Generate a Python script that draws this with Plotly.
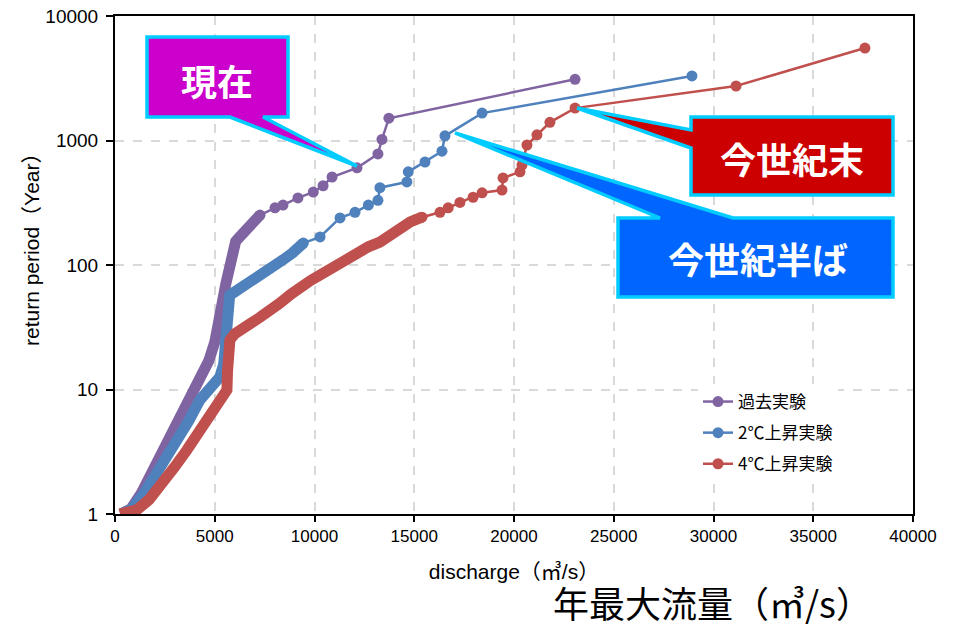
import plotly.graph_objects as go

# ---------------- data ----------------
# dense part of each curve (many overlapping points -> thick band)
past_dense_x = [300, 800, 1300, 2000, 2500, 3000, 3500, 4000, 4400, 4700, 5000, 5100, 5300, 5400,
                5550, 5700, 5800, 5900, 6050, 6200, 6400, 6600, 6900, 7270]
past_dense_y = [1.0, 1.1, 1.45, 2.4, 3.3, 4.8, 7, 10, 13.5, 17, 24, 28, 40, 52,
                70, 90, 105, 135, 155, 165, 178, 191, 215, 252]
past_x = [7270, 8020, 8420, 9170, 9940, 10430, 10880, 12130, 13180, 13380, 13730, 23060]
past_y = [252, 288, 303, 346, 385, 433, 509, 603, 780, 1020, 1510, 3100]

c2_dense_x = [300, 800, 1500, 2300, 3200, 3700, 4250, 4800, 5250, 5450, 5550, 5600, 5650, 5750,
              5910, 6300, 6770, 7200, 7600, 8000, 8420, 8900, 9440]
c2_dense_y = [1.0, 1.08, 1.5, 2.4, 4.0, 5.6, 8.2, 10.5, 12.6, 16, 25, 35, 50, 57,
              59.5, 65, 71.6, 80, 91, 100, 110, 125, 150]
c2_x = [9440, 10280, 11280, 12030, 12700, 13180, 13280, 14630, 14700, 15540, 16390, 16540, 18400, 28920]
c2_y = [150, 168, 239, 265, 303, 331, 418, 465, 560, 672, 820, 1090, 1660, 3300]

c4_dense_x = [250, 600, 1100, 1700, 2260, 3000, 3600, 4200, 4760, 5200, 5610, 5640, 5660, 5760,
              6000, 6420, 6800, 7270, 7800, 8270, 8800, 9270, 9800, 10280, 10800, 11280, 11700,
              12130, 12700, 13280, 13800, 14290, 14800, 15390]
c4_dense_y = [1.0, 1.02, 1.08, 1.3, 1.65, 2.4, 3.26, 4.6, 6.5, 8, 9.9, 14, 20.7, 25,
              28, 31.8, 34, 38, 43, 49.5, 58, 66.5, 75, 83, 93, 104, 115,
              127, 140, 153, 175, 202, 222, 242]
c4_x = [15390, 16290, 16700, 17290, 17950, 18400, 19400, 19450, 20300, 20400, 20650, 21150, 21800,
        23060, 31130, 37590]
c4_y = [242, 265, 288, 318, 350, 380, 400, 500, 560, 635, 920, 1110, 1400, 1820, 2740, 5530]

series_names = ["過去実験", "2℃上昇実験", "4℃上昇実験"]
series_colors = ["#8064A2", "#4F81BD", "#C0504D"]

x_ticks = [0, 5000, 10000, 15000, 20000, 25000, 30000, 35000, 40000]
x_ticktext = ["0", "5000", "10000", "15000", "20000", "25000", "30000", "35000", "40000"]
y_ticks = [1, 10, 100, 1000, 10000]
y_ticktext = ["1", "10", "100", "1000", "10000"]

# ---------------- layout geometry ----------------
W, H = 959, 627
L, R, T, B = 115, 46, 16, 113
PW, PH = W - L - R, H - T - B


def px(xp):
    return (xp - L) / PW


def py(yp):
    return (T + PH - yp) / PH


fig = go.Figure()

dense = [(past_dense_x, past_dense_y), (c2_dense_x, c2_dense_y), (c4_dense_x, c4_dense_y)]
sparse = [(past_x, past_y), (c2_x, c2_y), (c4_x, c4_y)]

for i in range(3):
    dx, dy = dense[i]
    fig.add_trace(go.Scatter(x=dx, y=dy, mode="lines",
                             line=dict(color=series_colors[i], width=11),
                             showlegend=False, hoverinfo="skip", legendgroup=f"g{i}"))
for i in range(3):
    sx, sy = sparse[i]
    fig.add_trace(go.Scatter(x=sx, y=sy, mode="lines+markers", name=series_names[i],
                             line=dict(color=series_colors[i], width=2.5),
                             marker=dict(color=series_colors[i], size=11),
                             legendgroup=f"g{i}"))

grid = dict(showgrid=True, gridcolor="#d9d9d9", griddash="dash", gridwidth=1.5)
fig.update_xaxes(range=[0, 40000], tickvals=x_ticks, ticktext=x_ticktext, ticks="outside", ticklen=6,
                 tickwidth=1.5, tickcolor="black", showline=True, linecolor="black",
                 linewidth=2, mirror=True, zeroline=False, automargin=False,
                 ticklabeloverflow="allow",
                 tickfont=dict(family="Liberation Sans, Arial", size=17, color="black"),
                 title=dict(text="discharge（㎥/s）", standoff=19,
                            font=dict(family="Liberation Sans, Noto Sans CJK JP", size=21, color="black")),
                 **grid)
fig.update_yaxes(type="log", range=[0, 4], tickvals=y_ticks, ticktext=y_ticktext,
                 ticks="outside", ticklen=7, tickwidth=1.5, tickcolor="black",
                 showline=True, linecolor="black", linewidth=2, mirror=True, zeroline=False,
                 automargin=False, ticklabeloverflow="allow", ticklabelstandoff=4,
                 tickfont=dict(family="Liberation Sans, Arial", size=19, color="black"),
                 **grid)

# ---------------- callouts ----------------
callouts = [
    # fill colour, polygon (window pixels), text, text centre
    ("#CC00CC", [(147, 37), (288, 37), (288, 117), (263, 117), (357, 166), (230, 117), (147, 117)],
     "現在", (217, 80)),
    ("#CC0000", [(691, 117), (893, 117), (893, 195), (691, 195), (691, 148), (577, 108), (691, 130)],
     "今世紀末", (792, 158)),
    ("#0066FF", [(618, 218), (660, 218), (455, 133), (733, 218), (893, 218), (893, 297), (618, 297)],
     "今世紀半ば", (758, 258)),
]
shapes = []
annotations = []
for fill, poly, text, (tx, ty) in callouts:
    path = "M " + " L ".join(f"{px(a):.5f},{py(b):.5f}" for a, b in poly) + " Z"
    shapes.append(dict(type="path", path=path, xref="paper", yref="paper",
                       fillcolor=fill, line=dict(color="#00CCFF", width=3.5), layer="above"))
    annotations.append(dict(text=f"<b>{text}</b>", x=px(tx), y=py(ty), xref="paper", yref="paper",
                            showarrow=False, xanchor="center", yanchor="middle",
                            font=dict(family="Noto Sans CJK JP", size=36, color="white")))

# y-axis title (placed slightly above the plot centre as in the reference)
annotations.append(dict(text="return period（Year）", x=px(31), y=py(244), xref="paper", yref="paper",
                        showarrow=False, textangle=-90, xanchor="center", yanchor="middle",
                        font=dict(family="Liberation Sans, Noto Sans CJK JP", size=21, color="black")))

annotations.append(dict(text="年最大流量（㎥/s）", x=px(712), y=py(602), xref="paper", yref="paper",
                        showarrow=False, xanchor="center", yanchor="middle",
                        font=dict(family="Noto Sans CJK JP", size=36, color="black")))

fig.update_layout(
    width=W, height=H,
    margin=dict(l=L, r=R, t=T, b=B, autoexpand=False),
    paper_bgcolor="white", plot_bgcolor="white",
    shapes=shapes, annotations=annotations,
    legend=dict(x=px(698), y=py(384), xanchor="left", yanchor="top",
                bgcolor="white", borderwidth=0, traceorder="grouped", tracegroupgap=6,
                font=dict(family="Noto Sans CJK JP, Liberation Sans", size=17, color="black")),
)

# remove the default 8px page margin so the figure fills the window exactly
fig.write_html("out.html", config={"displayModeBar": False},
               post_script="document.body.style.margin='0';")
